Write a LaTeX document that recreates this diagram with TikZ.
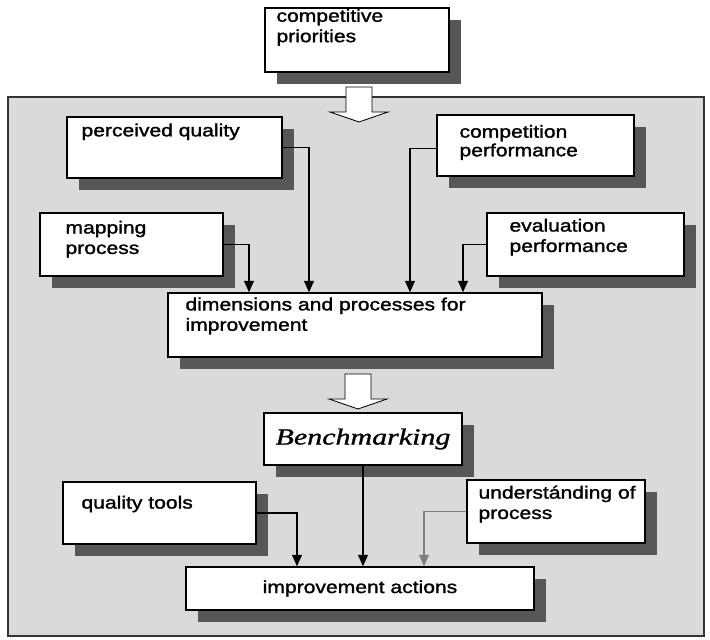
\documentclass[tikz,border=0pt]{standalone}
\usepackage{fontspec}
\setmainfont{Liberation Sans}[FakeStretch=1.2,FakeBold=1.5]
\newfontfamily\benchfont{Liberation Serif}[FakeStretch=1.3,FakeBold=1.2]
\usetikzlibrary{shapes,calc,arrows.meta,shadows}
\definecolor{panelgray}{HTML}{DADADA}
\definecolor{shadowgray}{HTML}{575757}
\newcommand{\hollowarrow}[1]{%
  \draw[line width=0.6pt,fill=white,shift={#1}] (-0.325,0) -- (0.325,0) -- (0.325,-0.625) -- (0.725,-0.625) -- (0,-0.875) -- (-0.725,-0.625) -- (-0.325,-0.625) -- cycle;}
\tikzset{
  box/.style={draw,rectangle,fill=white,line width=1.1pt,drop shadow={shadow xshift=0.3cm,shadow yshift=-0.3cm,fill=shadowgray,opacity=1}},
  txt/.style={anchor=north west,inner sep=0pt,align=left,font=\fontsize{12.5pt}{14.5pt}\selectfont},
  conn/.style={line width=0.9pt,-{Triangle[length=8pt,width=7pt]}},
}
\begin{document}
\begin{tikzpicture}
\useasboundingbox (0,0) rectangle (17.75,16);
\node[draw=black!80,rectangle,fill=panelgray,line width=1.6pt,minimum width=17.4cm,minimum height=13.475cm] (FRAME) at (8.9,6.8375) {};
\hollowarrow{(8.975,13.825)}
\hollowarrow{(8.95,6.65)}
\node[box,minimum width=4.6cm,minimum height=1.6cm] (CP) at (8.925,15.0) {};
\node[box,minimum width=5.375cm,minimum height=1.525cm] (PQ) at (4.3625,12.3125) {};
\node[box,minimum width=4.925cm,minimum height=1.525cm] (CPF) at (13.3875,12.3625) {};
\node[box,minimum width=4.575cm,minimum height=1.575cm] (MP) at (3.2875,9.8875) {};
\node[box,minimum width=4.925cm,minimum height=1.575cm] (EP) at (14.6375,9.8875) {};
\node[box,minimum width=9.35cm,minimum height=1.6cm] (DPI) at (8.875,7.875) {};
\node[box,minimum width=4.95cm,minimum height=1.3cm,font=\benchfont\itshape\fontsize{16.4pt}{18pt}\selectfont] (BM) at (9.075,5.025) {Benchmarking};
\node[box,minimum width=4.825cm,minimum height=1.55cm] (QT) at (3.9875,3.175) {};
\node[box,minimum width=4.45cm,minimum height=1.575cm] (UP) at (13.9,3.2125) {};
\node[box,minimum width=8.7cm,minimum height=1.075cm,font=\fontsize{12.5pt}{14.5pt}\selectfont] (IA) at (9.0,1.2875) {improvement actions};
\node[txt] (CPt) at ($(CP.north west)+(0.3,0)$) {\strut competitive\\priorities};
\node[txt] (PQt) at ($(PQ.north west)+(0.375,-0.14)$) {\strut perceived quality};
\node[txt,font=\fontsize{12.5pt}{10.7pt}\selectfont] (CPFt) at ($(CPF.north west)+(0.575,-0.26)$) {\strut competition\\performance};
\node[txt] (MPt) at ($(MP.north west)+(0.65,-0.17)$) {\strut mapping\\process};
\node[txt] (EPt) at ($(EP.north west)+(0.575,-0.12)$) {\strut evaluation\\performance};
\node[txt] (DPIt) at ($(DPI.north west)+(0.45,-0.09)$) {\strut dimensions and processes for\\improvement};
\node[txt] (QTt) at ($(QT.north west)+(0.475,-0.32)$) {\strut quality tools};
\node[txt] (UPt) at ($(UP.north west)+(0.3,-0.12)$) {\strut understánding of\\process};
\draw[conn] (PQ.east) -| ([xshift=-1.15cm]DPI.north);
\draw[conn] ([yshift=-0.08cm]CPF.west) -| ([xshift=1.375cm]DPI.north);
\draw[conn] (MP.east) -| ([xshift=-2.65cm]DPI.north);
\draw[conn] (EP.west) -| ([xshift=2.7cm]DPI.north);
\draw[conn] (BM.south) -- (BM.south |- IA.north);
\draw[conn] (QT.east) -| ([xshift=-1.575cm]IA.north);
\draw[conn,gray] (UP.west) -| ([xshift=1.6cm]IA.north);
\end{tikzpicture}
\end{document}
